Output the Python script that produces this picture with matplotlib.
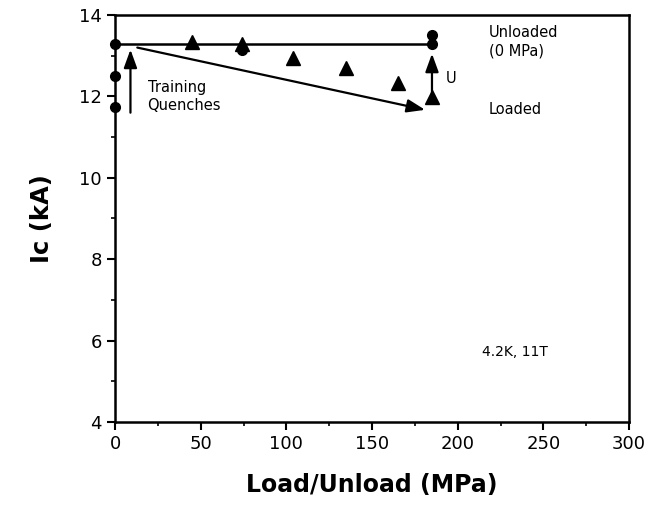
import matplotlib.pyplot as plt
import numpy as np

# training quenches at zero load
train_x = [0, 0, 0]
train_y = [13.3, 12.5, 11.75]

# loaded points (triangles)
tri_x = [45, 74, 104, 135, 165, 185]
tri_y = [13.33, 13.3, 12.95, 12.7, 12.33, 11.98]

# extra points under the 74 MPa triangle and after unload
circ_x = [74, 185, 185]
circ_y = [13.15, 13.5, 13.3]

fig = plt.figure(figsize=(6.51, 5.09), dpi=100)
ax = fig.add_axes([0.1767, 0.171, 0.7895, 0.7995])

# unloaded line
ax.plot([0, 185], [13.3, 13.3], color='black', lw=1.8)
ax.plot(train_x, train_y, 'o', color='black', ms=7, clip_on=False, zorder=5)
ax.plot(tri_x, tri_y, '^', color='black', ms=9.5)
ax.plot(circ_x, circ_y, 'o', color='black', ms=7)

arw = dict(arrowstyle='-|>,head_length=1.1,head_width=0.4', color='black', lw=1.6,
           mutation_scale=10, shrinkA=0, shrinkB=0)
ax.annotate('', xy=(9, 13.15), xytext=(9, 11.6), arrowprops=arw)
ax.annotate('', xy=(181, 11.67), xytext=(13, 13.2), arrowprops=arw)
ax.annotate('', xy=(185, 13.05), xytext=(185, 12.05), arrowprops=arw)

fs = 10.5
ax.text(19, 12.0, 'Training\nQuenches', fontsize=fs, va='center', ha='left', linespacing=1.3)
ax.text(218, 13.35, 'Unloaded\n(0 MPa)', fontsize=fs, va='center', ha='left', linespacing=1.3)
ax.text(218, 11.67, 'Loaded', fontsize=fs, va='center', ha='left')
ax.text(193, 12.45, 'U', fontsize=fs, va='center', ha='left')
ax.text(214, 5.72, '4.2K, 11T', fontsize=10, va='center', ha='left')

ax.set_xlim(0, 300)
ax.set_ylim(4, 14)
ax.set_xticks(np.arange(0, 301, 50))
ax.set_xticks(np.arange(0, 301, 25), minor=True)
ax.set_yticks(np.arange(4, 15, 2))
ax.set_yticks(np.arange(4, 15, 1), minor=True)
ax.tick_params(which='major', direction='out', length=6, width=1.5, labelsize=13)
ax.tick_params(which='minor', direction='out', length=3, width=1.2)
for s in ax.spines.values():
    s.set_linewidth(1.8)

ax.set_xlabel('Load/Unload (MPa)', fontsize=17, fontweight='bold', labelpad=14)
ax.set_ylabel('Ic (kA)', fontsize=17.5, fontweight='bold', labelpad=18)

fig.savefig('out.png', dpi=100)
